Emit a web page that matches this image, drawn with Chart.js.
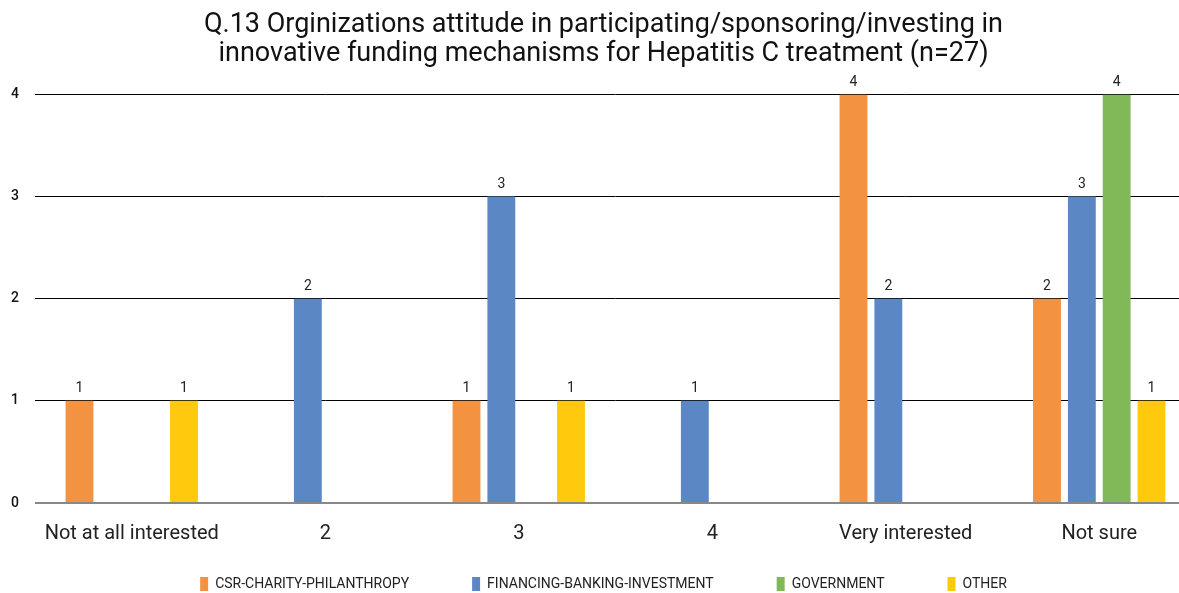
<!DOCTYPE html>
<html lang="en">
<head>
<meta charset="UTF-8">
<title>Q.13 Organizations attitude</title>
<script src="https://cdn.jsdelivr.net/npm/chart.js"></script>
<style>
  html, body { margin: 0; padding: 0; background: #fff; overflow: hidden; }
  /* the plot runs a little past the right edge, as in the original */
  .wrap { width: 1196px; height: 593px; position: relative; }
</style>
</head>
<body>
<div class="wrap"><canvas id="chart"></canvas></div>
<script>
const categories = ['Not at all interested', '2', '3', '4', 'Very interested', 'Not sure'];
const csrCharity = [1, 0, 1, 0, 4, 2];
const financing = [0, 2, 3, 1, 2, 3];
const government = [0, 0, 0, 0, 0, 4];
const other = [1, 0, 1, 0, 0, 1];
const yTicks = [0, 1, 2, 3, 4];

const legendPad = 63;

// draw the value above each bar, zero values are left out
const valueLabels = {
    id: 'valueLabels',
    afterDatasetsDraw(chart) {
        const ctx = chart.ctx;
        ctx.save();
        ctx.font = '14px Roboto';
        ctx.fillStyle = '#222';
        ctx.textAlign = 'center';
        ctx.textBaseline = 'bottom';
        chart.data.datasets.forEach((ds, i) => {
            chart.getDatasetMeta(i).data.forEach((bar, j) => {
                if (ds.data[j] > 0) ctx.fillText(ds.data[j], bar.x, bar.y - 5);
            });
        });
        ctx.restore();
    }
};

// keep the wide gaps between legend items but not the tall box they give,
// then move the legend so its row sits near the bottom edge
const tightLegend = {
    id: 'tightLegend',
    beforeLayout(chart) {
        const lg = chart.legend;
        if (lg && !lg._tight) {
            const fit = lg.fit.bind(lg);
            lg.fit = function () { fit(); this.height = 28; };
            lg._tight = true;
        }
    },
    afterLayout(chart) {
        const lg = chart.legend;
        if (lg) {
            lg.top = chart.height - 16 - legendPad;
            lg.bottom = chart.height;
        }
    }
};

new Chart(document.getElementById('chart'), {
    type: 'bar',
    data: {
        labels: categories,
        datasets: [
            { label: 'CSR-CHARITY-PHILANTHROPY', data: csrCharity, backgroundColor: '#F39240' },
            { label: 'FINANCING-BANKING-INVESTMENT', data: financing, backgroundColor: '#5B87C5' },
            { label: 'GOVERNMENT', data: government, backgroundColor: '#82B958' },
            { label: 'OTHER', data: other, backgroundColor: '#FFC90E' }
        ]
    },
    options: {
        responsive: true,
        maintainAspectRatio: false,
        animation: false,
        categoryPercentage: 0.72,
        barPercentage: 0.8,
        layout: { padding: { left: 11, right: 0, top: 0, bottom: 0 } },
        plugins: {
            title: {
                display: true,
                text: ['Q.13 Orginizations attitude in participating/sponsoring/investing in',
                       'innovative funding mechanisms for Hepatitis C treatment (n=27)'],
                font: { family: 'Roboto', size: 27, weight: 'normal', lineHeight: 1.1 },
                color: '#111',
                padding: { top: 10, bottom: 25 }
            },
            legend: {
                position: 'bottom',
                labels: {
                    font: { family: 'Roboto', size: 14 },
                    color: '#222',
                    boxWidth: 8,
                    boxHeight: 14,
                    padding: legendPad
                }
            },
            tooltip: { enabled: false }
        },
        scales: {
            x: {
                grid: { display: false, drawTicks: false },
                border: { display: false },
                ticks: { font: { family: 'Roboto', size: 20 }, color: '#222', padding: 19 }
            },
            y: {
                min: 0,
                max: 4,
                afterBuildTicks: axis => { axis.ticks = yTicks.map(v => ({ value: v })); },
                afterFit: axis => { axis.width = 24; },
                border: { display: false },
                grid: {
                    drawTicks: false,
                    color: c => c.tick && c.tick.value === 0 ? '#888' : '#000',
                    lineWidth: c => c.tick && c.tick.value === 0 ? 2 : 1
                },
                ticks: { font: { family: 'Roboto', size: 14, weight: 500 }, color: '#111', padding: 16 }
            }
        }
    },
    plugins: [valueLabels, tightLegend]
});
</script>
</body>
</html>
